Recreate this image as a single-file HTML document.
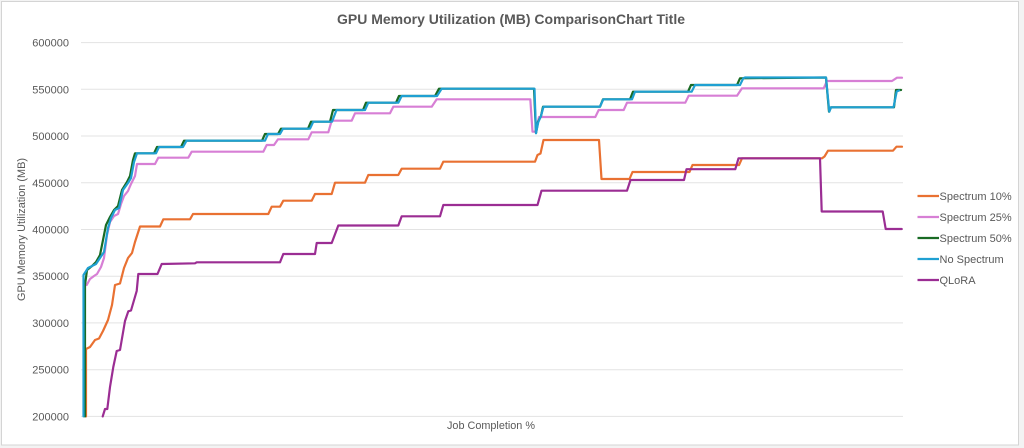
<!DOCTYPE html>
<html>
<head>
<meta charset="utf-8">
<style>
  html,body{margin:0;padding:0;background:#f3f3f3;}
  body{width:1024px;height:448px;overflow:hidden;position:relative;}
  svg{position:absolute;left:0;top:0;}
  text{font-family:"Liberation Sans",sans-serif;fill:#595959;}
</style>
</head>
<body>
<svg width="1024" height="448" viewBox="0 0 1024 448" xmlns="http://www.w3.org/2000/svg">
  <rect x="1.5" y="1.5" width="1017" height="443.5" fill="#ffffff" stroke="#d4d4d4" stroke-width="1"/>

  <!-- title -->
  <text x="337" y="24" font-size="13.5" font-weight="bold" textLength="348" lengthAdjust="spacingAndGlyphs">GPU Memory Utilization (MB) ComparisonChart Title</text>

  <!-- gridlines -->
  <g stroke="#e3e3e3" stroke-width="1">
    <line x1="81" y1="42.6" x2="903" y2="42.6"/>
    <line x1="81" y1="89.3" x2="903" y2="89.3"/>
    <line x1="81" y1="136.0" x2="903" y2="136.0"/>
    <line x1="81" y1="182.8" x2="903" y2="182.8"/>
    <line x1="81" y1="229.5" x2="903" y2="229.5"/>
    <line x1="81" y1="276.2" x2="903" y2="276.2"/>
    <line x1="81" y1="322.9" x2="903" y2="322.9"/>
    <line x1="81" y1="369.7" x2="903" y2="369.7"/>
    <line x1="81" y1="416.4" x2="903" y2="416.4"/>
  </g>

  <!-- y tick labels -->
  <g font-size="11" text-anchor="end">
    <text x="69" y="46.6">600000</text>
    <text x="69" y="93.3">550000</text>
    <text x="69" y="140.0">500000</text>
    <text x="69" y="186.8">450000</text>
    <text x="69" y="233.5">400000</text>
    <text x="69" y="280.2">350000</text>
    <text x="69" y="326.9">300000</text>
    <text x="69" y="373.7">250000</text>
    <text x="69" y="420.4">200000</text>
  </g>

  <!-- axis titles -->
  <text transform="translate(25,301) rotate(-90)" x="0" y="0" font-size="11" textLength="143" lengthAdjust="spacingAndGlyphs">GPU Memory Utilization (MB)</text>
  <text x="447" y="429" font-size="11" textLength="88" lengthAdjust="spacingAndGlyphs">Job Completion %</text>

  <g fill="none" stroke-width="2.2" stroke-linejoin="round" stroke-linecap="round">
    <!-- Spectrum 10% -->
    <path stroke="#E97132" d="M86,416.4 L86,349 L90,347 L95,340 L99,338.5 L103,331 L108,320 L112,305 L115,285 L120,283.5 L124,268 L128,258 L132,253 L135,242 L140,226.5 L160,226.5 L163.3,219.3 L190,219.3 L193,214 L268.3,214 L271.7,206.7 L280,206.7 L283.3,200.7 L311.7,200.7 L315,194 L331.7,194 L335,182.7 L365,182.7 L368.3,175 L398.3,175 L401.7,168.7 L440,168.7 L443.3,161.7 L535,161.7 L537.5,155 L540.5,153.5 L543.5,140 L599,140 L601.5,179 L629.5,179 L632.5,172 L689.5,172 L692.5,165 L739,165 L742,158.3 L822,158.3 L824.5,156.5 L828,150.7 L893,150.7 L896.5,146.7 L902,146.7"/>
    <!-- Spectrum 25% -->
    <path stroke="#D77FD5" d="M86.7,285 L90,279 L94,276 L97,274 L101,267 L104,258 L107,235 L110,222 L114,216 L118,214 L121,204 L124,196 L128,191 L131,184 L135,176 L137,164 L155,164 L158.3,157.7 L188.3,157.7 L191.7,151.7 L263.3,151.7 L266.7,145 L274,145 L278,139.3 L308.3,139.3 L311.7,132.3 L328.3,132.3 L331.7,120.7 L351.7,120.7 L355,113.3 L390,113.3 L393.3,106.7 L431.7,106.7 L436.7,99.3 L530.3,99.3 L532.5,131.7 L535.5,131.7 L539,117 L595.3,117 L598.7,110 L623.7,110 L627,102.7 L685.3,102.7 L688.7,95.7 L737,95.7 L742,88.3 L823.7,88.3 L827,81 L892,81 L897,77.7 L902,77.7"/>
    <!-- Spectrum 50% -->
    <path stroke="#196B24" d="M85,416.4 L85,285 L87,270 L92,266 L96,262 L100,255 L103,240 L106,225 L110,217 L114,210 L118,206 L122,190 L127,182 L130,176 L133,160 L135,153.3 L154,153.3 L157,147 L181,147 L184,140.7 L262,140.7 L265,134 L278,134 L281,128.7 L308,128.7 L311,121.7 L330,121.7 L333,110 L363,110 L366,102.7 L396,102.7 L399,96 L435,96 L439,88.7 L534,88.7 L536,133 L538,122 L541,116 L543,106.7 L600,106.7 L603,99.3 L630,99.3 L633,91.7 L688,91.7 L691,85 L737,85 L740,78.3 L826,77.5 L829,111.7 L831,107.3 L894,107.3 L896,90 L901,90"/>
    <!-- No Spectrum -->
    <path stroke="#1FA0D2" d="M83.5,416.4 L83.5,275 L88,268 L92,266 L96,264 L100,258 L104,252 L108,228 L111,218 L115,210 L119,208 L123,190 L128,183 L131,178 L134,162 L137,153.3 L156,153.3 L159,147 L183,147 L186.5,140.7 L265,140.7 L268,134 L280,134 L283,128.7 L310,128.7 L313.3,121.7 L332,121.7 L336.5,110 L365,110 L368.3,102.7 L398.3,102.7 L401.7,96 L437,96 L441.7,88.7 L534.5,88.7 L536,133.3 L538.3,122 L541,116 L543.5,106.7 L600,106.7 L603.3,99.3 L632,99.3 L635,91.7 L691.7,91.7 L695,85 L740,85 L743.3,78.3 L745,77.5 L826,77.5 L829.3,111.7 L831,107.3 L893.5,107.3 L896.7,91.5 L899,90.5"/>
    <!-- QLoRA -->
    <path stroke="#9B2D93" d="M102.7,416.4 L105,409 L107.3,409 L110,387 L113.3,367 L116.7,351 L120,350 L125,321 L128.3,311.3 L131,310.5 L136.7,291 L138.3,274 L157.5,274 L161.7,264 L195,263.3 L196.7,262.3 L280,262.3 L283.3,254 L315,254 L316.7,243 L331.7,243 L338.3,225.5 L398.3,225.5 L401.7,216.3 L440,216.3 L443.3,205 L537.5,205 L541.5,190.7 L627,190.7 L630.5,180 L684,180 L686.5,169.2 L735.3,169.2 L738.5,158.3 L820,158.3 L821.7,211.5 L882.7,211.5 L885.7,229 L901.7,229"/>
  </g>

  <!-- legend -->
  <g stroke-width="2.2">
    <line x1="917.5" y1="196" x2="939" y2="196" stroke="#E97132"/>
    <line x1="917.5" y1="217" x2="939" y2="217" stroke="#D77FD5"/>
    <line x1="917.5" y1="238" x2="939" y2="238" stroke="#196B24"/>
    <line x1="917.5" y1="259" x2="939" y2="259" stroke="#1FA0D2"/>
    <line x1="917.5" y1="280" x2="939" y2="280" stroke="#9B2D93"/>
  </g>
  <g font-size="11">
    <text x="939.5" y="200">Spectrum 10%</text>
    <text x="939.5" y="221">Spectrum 25%</text>
    <text x="939.5" y="242">Spectrum 50%</text>
    <text x="939.5" y="263">No Spectrum</text>
    <text x="939.5" y="284">QLoRA</text>
  </g>
</svg>
</body>
</html>
